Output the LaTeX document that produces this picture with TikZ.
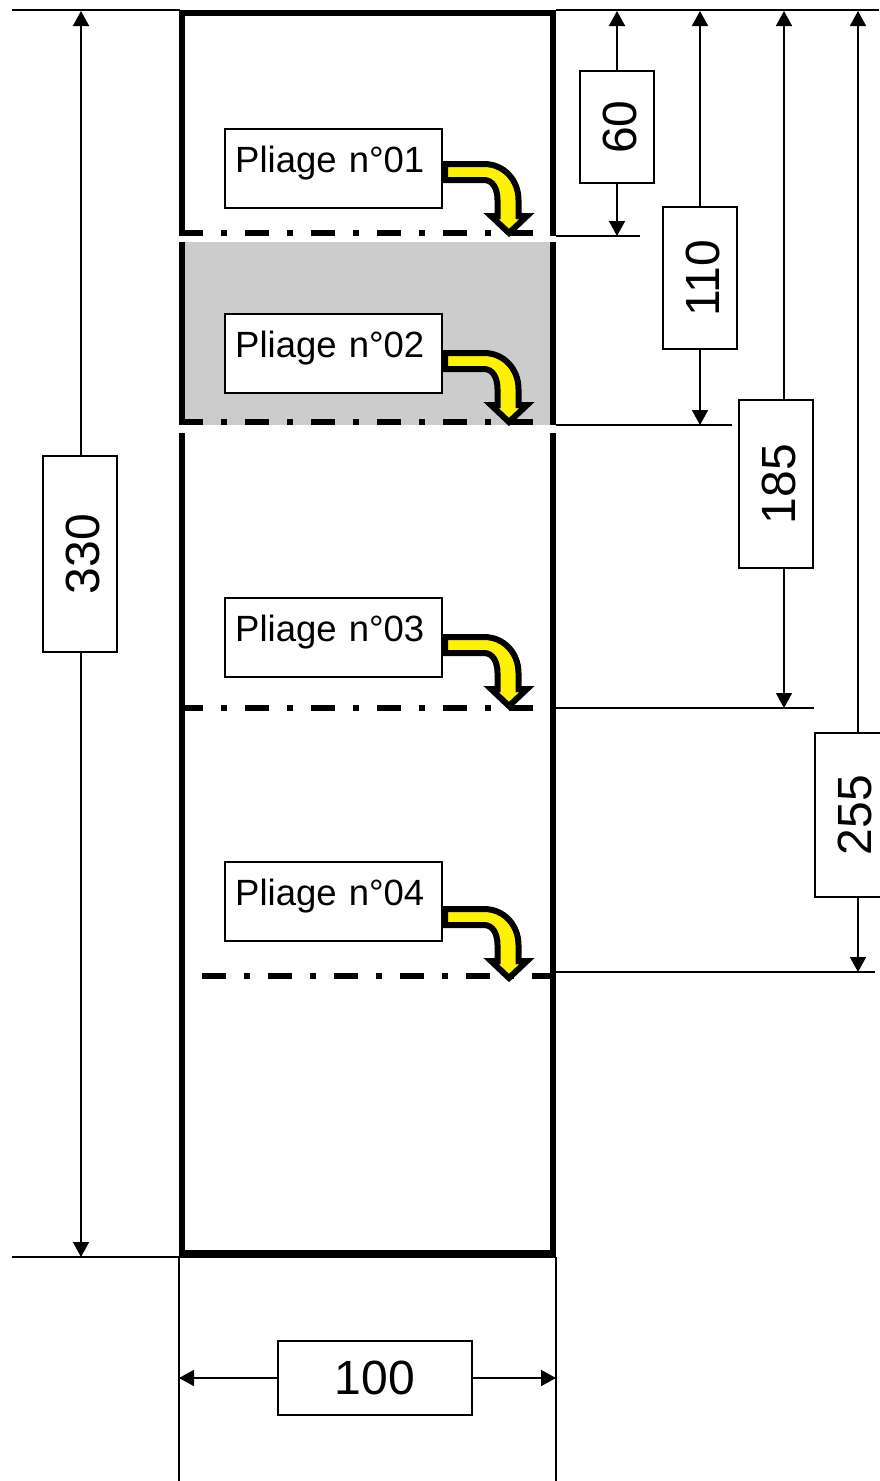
\documentclass[tikz,border=0pt]{standalone}
\usepackage{fontspec}
\setmainfont{Liberation Sans}
\usetikzlibrary{arrows.meta,positioning,calc}
\definecolor{plgrey}{HTML}{CCCCCC}
\begin{document}
\begin{tikzpicture}[x=1pt,y=-1pt,
    cote/.style={draw,fill=white,line width=1.6pt,inner sep=0pt,font=\fontsize{48}{48}\selectfont},
    cotev/.style={cote,rotate=90,minimum height=74pt,text height=38pt,text depth=0pt},
    repere/.style={line width=1.6pt},
    fleche/.style={line width=1.6pt,-{Triangle[length=15pt,width=16pt]}},
    pliage/.style={draw,fill=white,line width=2.4pt,anchor=north west,inner xsep=10pt,inner ysep=0pt,
        minimum width=217pt,text width=197pt,align=left,text height=43pt,text depth=36pt,
        font=\fontsize{36.5}{36.5}\selectfont},
    axe/.style={line width=5.5pt,dash pattern=on 24pt off 18pt on 6pt off 18pt}]
        \useasboundingbox (0,0) rectangle (879,1481);

        % cadre
        \draw[line width=5.5pt] (182,13) rectangle (553,1253);
        \fill[white] (178,235.5) rectangle (558,242);
        \fill[white] (178,425) rectangle (558,433);
        \fill[plgrey] (185,242) rectangle (550,425);

        % lignes de pliage
        \draw[axe] (179,233) -- (533,233);
        \draw[axe] (179,422) -- (533,422);
        \draw[axe] (179,708) -- (533,708);
        \draw[axe] (202,976) -- (553,976);

        % etiquettes
        \node[pliage] (P1) at (224,128) {Pliage n°01};
        \node[pliage] (P2) at (224,313) {Pliage n°02};
        \node[pliage] (P3) at (224,597) {Pliage n°03};
        \node[pliage] (P4) at (224,861) {Pliage n°04};

        % fleches de pliage
        \foreach \n/\dy in {P1/0,P2/189,P3/473,P4/745}{
            \begin{scope}[shift={(0,\dy)}]
                \draw[line width=6pt,fill=yellow,miter limit=10]
                    (445,164) -- (484,164)
                    .. controls (504,164) and (518.5,180) .. (518.5,200)
                    -- (518.5,216) -- (527,216) -- (509,233) -- (491,216) -- (497.5,216)
                    -- (497.5,200) .. controls (497.5,189) and (493,180) .. (484,180)
                    -- (445,180) -- cycle;
            \end{scope}
        }

        % cotes
        \node[cotev,minimum width=196pt] (D330) at (80,554) {330};
        \node[cotev,minimum width=112pt] (D60) at (617,127) {60};
        \node[cotev,minimum width=142pt] (D110) at (700,278) {110};
        \node[cotev,minimum width=168pt] (D185) at (776,484) {185};
        \node[cotev,minimum width=164pt] (D255) at (852,815) {255};
        \node[cote,minimum width=194pt,minimum height=74pt] (D100) at (375,1378) {100};

        \coordinate (H330) at (81,11);
        \coordinate (B330) at (81,1257);
        \coordinate (H60) at (617,11);
        \coordinate (B60) at (617,236);
        \coordinate (H110) at (700,11);
        \coordinate (B110) at (700,425);
        \coordinate (H185) at (784,11);
        \coordinate (B185) at (784,708);
        \coordinate (H255) at (858,11);
        \coordinate (B255) at (858,972);
        \coordinate (G100) at (179,1378);
        \coordinate (D100b) at (556,1378);

        \begin{scope}[fleche]
            \draw (H330 |- D330.east) -- (H330);
            \draw (H330 |- D330.west) -- (B330);
            \draw (D60) -- (H60);
            \draw (D60) -- (B60);
            \draw (D110) -- (H110);
            \draw (D110) -- (B110);
            \draw (H185 |- D185.east) -- (H185);
            \draw (H185 |- D185.west) -- (B185);
            \draw (H255 |- D255.east) -- (H255);
            \draw (H255 |- D255.west) -- (B255);
            \draw (D100) -- (G100);
            \draw (D100) -- (D100b);
        \end{scope}

        % lignes de rappel
        \begin{scope}[repere]
            \draw (12,10) -- (180,10);
            \draw (556,10) -- (879,10);
            \draw (12,1257) -- (556,1257);
            \draw (556,236) -- (640,236);
            \draw (556,425) -- (732,425);
            \draw (556,708) -- (814,708);
            \draw (556,972) -- (875,972);
            \draw (179,1257) -- (179,1481);
            \draw (556,1257) -- (556,1481);
        \end{scope}
\end{tikzpicture}
\end{document}
